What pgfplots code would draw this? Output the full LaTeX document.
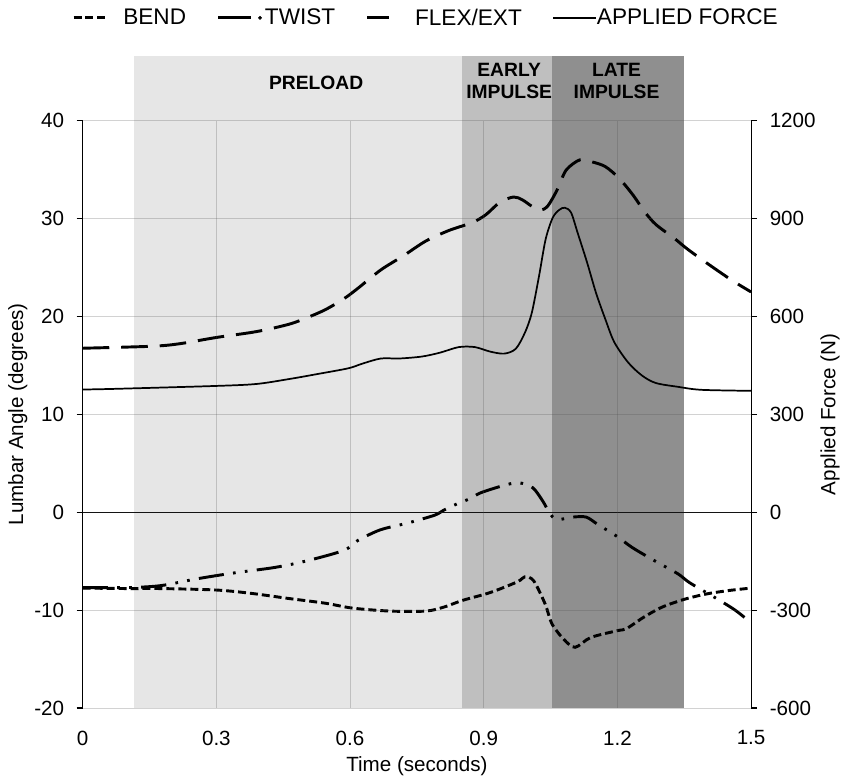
\documentclass[border=0pt]{standalone}
\usepackage{fontspec}
\setmainfont{Liberation Sans}
\usepackage{pgfplots}
\usepackage{pgfplotstable}
\pgfplotsset{compat=1.18}

\definecolor{preloadgray}{HTML}{E6E6E6}
\definecolor{earlygray}{HTML}{BFBFBF}
\definecolor{lategray}{HTML}{8F8F8F}

% lumbar angles (degrees)
\pgfplotstableread{
t     bend
0     -7.75
0.1   -7.8
0.175 -7.8
0.3   -7.95
0.38  -8.3
0.46  -8.8
0.545 -9.3
0.606 -9.8
0.69  -10.1
0.77  -10.1
0.81  -9.7
0.853 -9.0
0.915 -8.2
0.976 -7.1
0.992 -6.6
1.012 -7.0
1.038 -9.4
1.053 -11.4
1.08  -13.0
1.105 -13.8
1.14  -12.8
1.2   -12.1
1.22  -11.9
1.26  -10.7
1.3   -9.7
1.35  -8.9
1.4   -8.35
1.45  -8.0
1.5   -7.75
}\bendtab

\pgfplotstableread{
t     twist
0     -7.7
0.1   -7.7
0.175 -7.5
0.257 -6.8
0.34  -6.2
0.43  -5.65
0.5   -5.0
0.586 -3.9
0.617 -2.9
0.668 -1.8
0.73  -1.1
0.79  -0.3
0.81  0.2
0.84  0.85
0.87  1.4
0.894 2.0
0.95  2.8
0.98  3.0
1.01  2.5
1.033 1.1
1.048 -0.1
1.064 -0.75
1.1   -0.5
1.13  -0.5
1.156 -1.25
1.2   -2.5
1.233 -3.6
1.285 -5.0
1.336 -6.3
1.362 -7.2
1.418 -8.7
1.464 -10.0
1.5   -11.3
}\twisttab

\pgfplotstableread{
t     flex
0     16.75
0.154 16.95
0.216 17.2
0.3   17.85
0.39  18.45
0.463 19.2
0.505 19.9
0.545 20.7
0.586 21.8
0.617 22.85
0.669 24.75
0.72  26.2
0.77  27.7
0.823 28.8
0.875 29.6
0.905 30.4
0.936 31.65
0.967 32.2
0.987 31.9
1.008 31.25
1.027 30.85
1.044 31.3
1.065 32.95
1.085 34.95
1.116 36.0
1.142 35.8
1.173 35.3
1.204 34.1
1.235 32.4
1.26  30.75
1.286 29.4
1.327 28.0
1.358 26.85
1.41  25.15
1.46  23.6
1.5   22.5
}\flextab

% applied force (N)
\pgfplotstableread{
t     force
0     376
0.072 378
0.3   387
0.39  393
0.463 408
0.525 423
0.596 441
0.627 455
0.669 471
0.71  471
0.761 477
0.802 489
0.844 506
0.88  506
0.915 492
0.946 486
0.972 501
0.993 552
1.008 612
1.024 723
1.039 837
1.055 903
1.07  927
1.082 933
1.096 918
1.111 855
1.132 765
1.152 672
1.173 591
1.193 521
1.224 459
1.255 419
1.286 396
1.337 384
1.389 375
1.5   372
}\forcetab

\begin{document}
\begin{tikzpicture}
\pgfplotsset{
  common/.style={
    width=503pt, height=442pt, scale only axis,
    xmin=0, xmax=1.5,
    tick label style={font=\fontsize{15.5}{18}\selectfont},
    label style={font=\fontsize{15.5}{18}\selectfont},
    /pgf/number format/assume math mode=true,
    /pgf/number format/1000 sep={},
    tick align=outside, major tick length=4.5pt,
    tick style={black, line width=0.8pt},
    axis line style={black, line width=0.8pt},
  },
}
\begin{axis}[common,
  ymin=-20, ymax=40, ytick={-20,-10,...,40},
  axis y line*=left, axis x line*=bottom,
  x axis line style={draw=none},
  major x tick style={draw=none},
  xtick={0,0.3,0.6,0.9,1.2,1.5}, xticklabels={0,0.3,0.6,0.9,1.2,1.5},
  xticklabel style={yshift=-9pt},
  yticklabel style={xshift=-6pt},
  grid=major, grid style={black!70, opacity=0.25, line width=0.6pt},
  axis on top, clip=false,
  xlabel={Time (seconds)}, ylabel={Lumbar Angle (degrees)},
  xlabel style={at={(axis description cs:0.5,-0.0985)}, anchor=center},
  ylabel style={at={(axis description cs:-0.097,0.5)}, anchor=center},
]
% phase shading
\addplot[fill=preloadgray, draw=none, forget plot] coordinates {(0.115,-20) (0.852,-20) (0.852,46.6) (0.115,46.6)} -- cycle;
\addplot[fill=earlygray, draw=none, forget plot] coordinates {(0.852,-20) (1.053,-20) (1.053,46.6) (0.852,46.6)} -- cycle;
\addplot[fill=lategray, draw=none, forget plot] coordinates {(1.053,-20) (1.35,-20) (1.35,46.6) (1.053,46.6)} -- cycle;
\addplot[black, line width=0.9pt, forget plot] coordinates {(0,0) (1.5,0)};

\addplot[black, line width=2.2pt, dash pattern=on 6pt off 3pt, smooth] table[x=t, y=bend] {\bendtab};
\addplot[black, line width=2.2pt, dash pattern=on 19pt off 7pt on 2pt off 7pt on 2pt off 7pt, smooth] table[x=t, y=twist] {\twisttab};
\addplot[black, line width=2.2pt, dash pattern=on 20pt off 9pt, smooth] table[x=t, y=flex] {\flextab};

\node[font=\bfseries\fontsize{14.5}{16.5}\selectfont] at (axis cs:0.524,43.9) {PRELOAD};
\node[font=\bfseries\fontsize{14.5}{16.5}\selectfont, align=center] at (axis cs:0.957,44.07) {EARLY\\IMPULSE};
\node[font=\bfseries\fontsize{14.5}{16.5}\selectfont, align=center] at (axis cs:1.198,44.07) {LATE\\IMPULSE};

\path (rel axis cs:-0.1237,-0.1222) rectangle (rel axis cs:1.1341,1.2054);
\end{axis}

\begin{axis}[common,
  ymin=-600, ymax=1200, ytick={-600,-300,...,1200},
  axis y line*=right, axis x line=none,
  yticklabel style={xshift=6pt},
  ylabel={Applied Force (N)},
  ylabel style={at={(axis description cs:1.118,0.5)}, anchor=center},
  legend style={at={(0.512,1.175)}, anchor=center, draw=none, fill=none,
    font=\fontsize{17}{20}\selectfont, legend columns=4,
    nodes={inner sep=0pt},
    /tikz/every even column/.append style={column sep=23pt}},
]
\addlegendimage{legend image code/.code={
  \draw[black, line width=2.2pt, dash pattern=on 6pt off 3pt] (0pt,0pt) -- (25pt,0pt);
  \path[draw=none, fill=none] (0pt,-3pt) rectangle (37.5pt,3pt);}}
\addlegendentry{BEND}
\addlegendimage{legend image code/.code={
  \draw[black, line width=2.2pt, solid] (0pt,0pt) -- (24.75pt,0pt);
  \fill[black] (31.5pt,0pt) circle (1.2pt);
  \path[draw=none, fill=none] (0pt,-3pt) rectangle (35.25pt,3pt);}}
\addlegendentry{TWIST}
\addlegendimage{legend image code/.code={
  \draw[black, line width=2.2pt, solid] (0pt,0pt) -- (16.5pt,0pt);
  \path[draw=none, fill=none] (0pt,-3pt) rectangle (36pt,3pt);}}
\addlegendentry{FLEX/EXT}
\addlegendimage{legend image code/.code={
  \draw[black, line width=1.1pt, solid] (0pt,0pt) -- (32.25pt,0pt);
  \path[draw=none, fill=none] (0pt,-3pt) rectangle (33pt,3pt);}}
\addlegendentry{APPLIED FORCE}

\addplot[black, line width=1.3pt, smooth, forget plot] table[x=t, y=force] {\forcetab};
\end{axis}
\end{tikzpicture}
\end{document}
